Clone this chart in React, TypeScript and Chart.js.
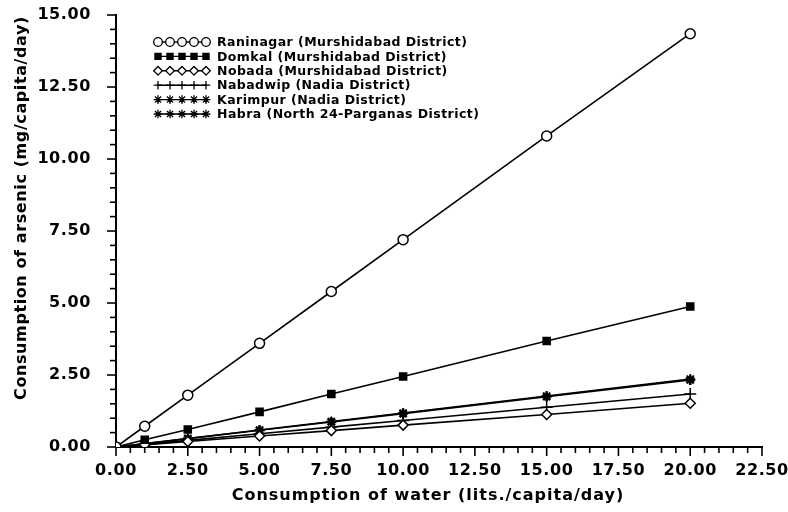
import React, { useEffect, useRef } from 'react';
import { Chart, registerables } from 'chart.js';
import { drawPoint } from 'chart.js/helpers';

Chart.register(...registerables);

// Water consumption (lits./capita/day)
const waterLitres = [0, 1, 2.5, 5, 7.5, 10, 15, 20];

// Arsenic consumption (mg/capita/day) per block
const raninagar = [0, 0.72, 1.8, 3.6, 5.4, 7.2, 10.8, 14.35];
const domkal = [0, 0.25, 0.61, 1.22, 1.84, 2.45, 3.68, 4.88];
const nobada = [0, 0.075, 0.19, 0.38, 0.57, 0.76, 1.13, 1.52];
const nabadwip = [0, 0.092, 0.23, 0.46, 0.69, 0.92, 1.38, 1.84];
const karimpur = [0, 0.118, 0.295, 0.59, 0.885, 1.18, 1.77, 2.36];
const habra = [0, 0.115, 0.29, 0.58, 0.87, 1.16, 1.75, 2.33];

const seriesLabels = [
  'Raninagar (Murshidabad District)',
  'Domkal (Murshidabad District)',
  'Nobada (Murshidabad District)',
  'Nabadwip (Nadia District)',
  'Karimpur (Nadia District)',
  'Habra (North 24-Parganas District)',
];

const xTitle = 'Consumption of water (lits./capita/day)';
const yTitle = 'Consumption of arsenic (mg/capita/day)';

const FONT = '"DejaVu Sans", sans-serif';

const pts = (ys: number[]) => waterLitres.map((x, i) => ({ x, y: ys[i] }));

export default function App() {
  const ref = useRef<HTMLCanvasElement | null>(null);

  useEffect(() => {
    document.body.style.margin = '0';
    const canvas = ref.current;
    if (!canvas) return;

    const styles = [
      { pointStyle: 'circle', radius: 5, bg: '#fff', bw: 1.5 },
      { pointStyle: 'rect', radius: 5, bg: '#000', bw: 1.5 },
      { pointStyle: 'rectRot', radius: 5, bg: '#fff', bw: 1.5 },
      { pointStyle: 'cross', radius: 6, bg: '#000', bw: 1.5 },
      { pointStyle: 'star', radius: 5, bg: '#000', bw: 1.5 },
      { pointStyle: 'star', radius: 5, bg: '#000', bw: 2.5 },
    ];
    const values = [raninagar, domkal, nobada, nabadwip, karimpur, habra];

    const datasets = values.map((v, i) => ({
      label: seriesLabels[i],
      data: pts(v),
      borderColor: '#000',
      borderWidth: 1.6,
      backgroundColor: styles[i].bg,
      pointStyle: styles[i].pointStyle as any,
      pointRadius: styles[i].radius,
      pointBorderWidth: styles[i].bw,
      pointBorderColor: '#000',
      pointBackgroundColor: styles[i].bg,
      fill: false,
      tension: 0,
    }));

    const decor = {
      id: 'decor',
      beforeDraw(chart: any) {
        chart.ctx.letterSpacing = '0.6px';
      },
      afterDraw(chart: any) {
        const ctx = chart.ctx as CanvasRenderingContext2D;
        const xs = chart.scales.x;
        const ys = chart.scales.y;
        const area = chart.chartArea;
        ctx.save();
        ctx.strokeStyle = '#000';
        ctx.lineWidth = 1.6;
        // x ticks
        for (let k = 0; k <= 45; k++) {
          const v = k * 0.5;
          const px = xs.getPixelForValue(v);
          const len = k % 5 === 0 ? 9 : 6;
          ctx.beginPath();
          ctx.moveTo(px, area.bottom);
          ctx.lineTo(px, area.bottom + len);
          ctx.stroke();
        }
        // y ticks
        for (let k = 0; k <= 30; k++) {
          const v = k * 0.5;
          const py = ys.getPixelForValue(v);
          const len = k % 5 === 0 ? 9 : 6;
          ctx.beginPath();
          ctx.moveTo(area.left, py);
          ctx.lineTo(area.left - len, py);
          ctx.stroke();
        }
        // titles
        ctx.fillStyle = '#000';
        ctx.font = `bold 16px ${FONT}`;
        (ctx as any).letterSpacing = '1px';
        ctx.textAlign = 'center';
        ctx.textBaseline = 'middle';
        ctx.fillText(xTitle, 428, 496);
        (ctx as any).letterSpacing = '0.6px';
        ctx.save();
        ctx.translate(22, 208);
        ctx.rotate(-Math.PI / 2);
        ctx.fillText(yTitle, 0, 0);
        ctx.restore();

        // legend
        (ctx as any).letterSpacing = '0.45px';
        ctx.font = `bold 12.5px ${FONT}`;
        ctx.textAlign = 'left';
        chart.data.datasets.forEach((ds: any, i: number) => {
          const y = 42 + i * 14.4;
          ctx.strokeStyle = '#000';
          ctx.lineWidth = 1.4;
          ctx.beginPath();
          ctx.moveTo(157, y);
          ctx.lineTo(207, y);
          ctx.stroke();
          for (let m = 0; m < 5; m++) {
            const mx = 158 + m * 12;
            ctx.fillStyle = styles[i].bg;
            ctx.strokeStyle = '#000';
            ctx.lineWidth = 1.3;
            drawPoint(ctx, {
              pointStyle: styles[i].pointStyle,
              radius: 4.3,
              rotation: 0,
              borderWidth: 1.3,
            } as any, mx, y);
          }
          ctx.fillStyle = '#000';
          ctx.fillText(ds.label, 217, y + 1);
        });
        ctx.restore();
      },
    };

    const chart = new Chart(canvas, {
      type: 'line',
      data: { datasets: datasets as any },
      options: {
        animation: false,
        responsive: false,
        devicePixelRatio: 1,
        layout: { padding: { top: 15, right: 26, left: 0, bottom: 0 } },
        plugins: {
          legend: { display: false },
          tooltip: { enabled: false },
        },
        scales: {
          x: {
            type: 'linear',
            min: 0,
            max: 22.5,
            afterFit: (s: any) => {
              s.height = 512 - 447;
              s.paddingLeft = 0;
              s.paddingRight = 0;
            },
            border: { display: true, color: '#000', width: 2 },
            grid: { display: true, drawOnChartArea: false, drawTicks: false },
            ticks: {
              stepSize: 2.5,
              autoSkip: false,
              maxRotation: 0,
              minRotation: 0,
              padding: 14,
              color: '#000',
              font: { family: FONT, size: 16, weight: 'bold' },
              callback: (v: any) => Number(v).toFixed(2),
            },
          },
          y: {
            type: 'linear',
            min: 0,
            max: 15,
            afterFit: (s: any) => {
              s.width = 116;
              s.paddingTop = 0;
              s.paddingBottom = 0;
            },
            border: { display: true, color: '#000', width: 2 },
            grid: { display: true, drawOnChartArea: false, drawTicks: false },
            ticks: {
              stepSize: 2.5,
              autoSkip: false,
              padding: 25,
              color: '#000',
              font: { family: FONT, size: 16, weight: 'bold' },
              callback: (v: any) => Number(v).toFixed(2),
            },
          },
        },
      },
      plugins: [decor],
    });

    return () => chart.destroy();
  }, []);

  return <canvas ref={ref} width={788} height={512} style={{ display: 'block' }} />;
}
